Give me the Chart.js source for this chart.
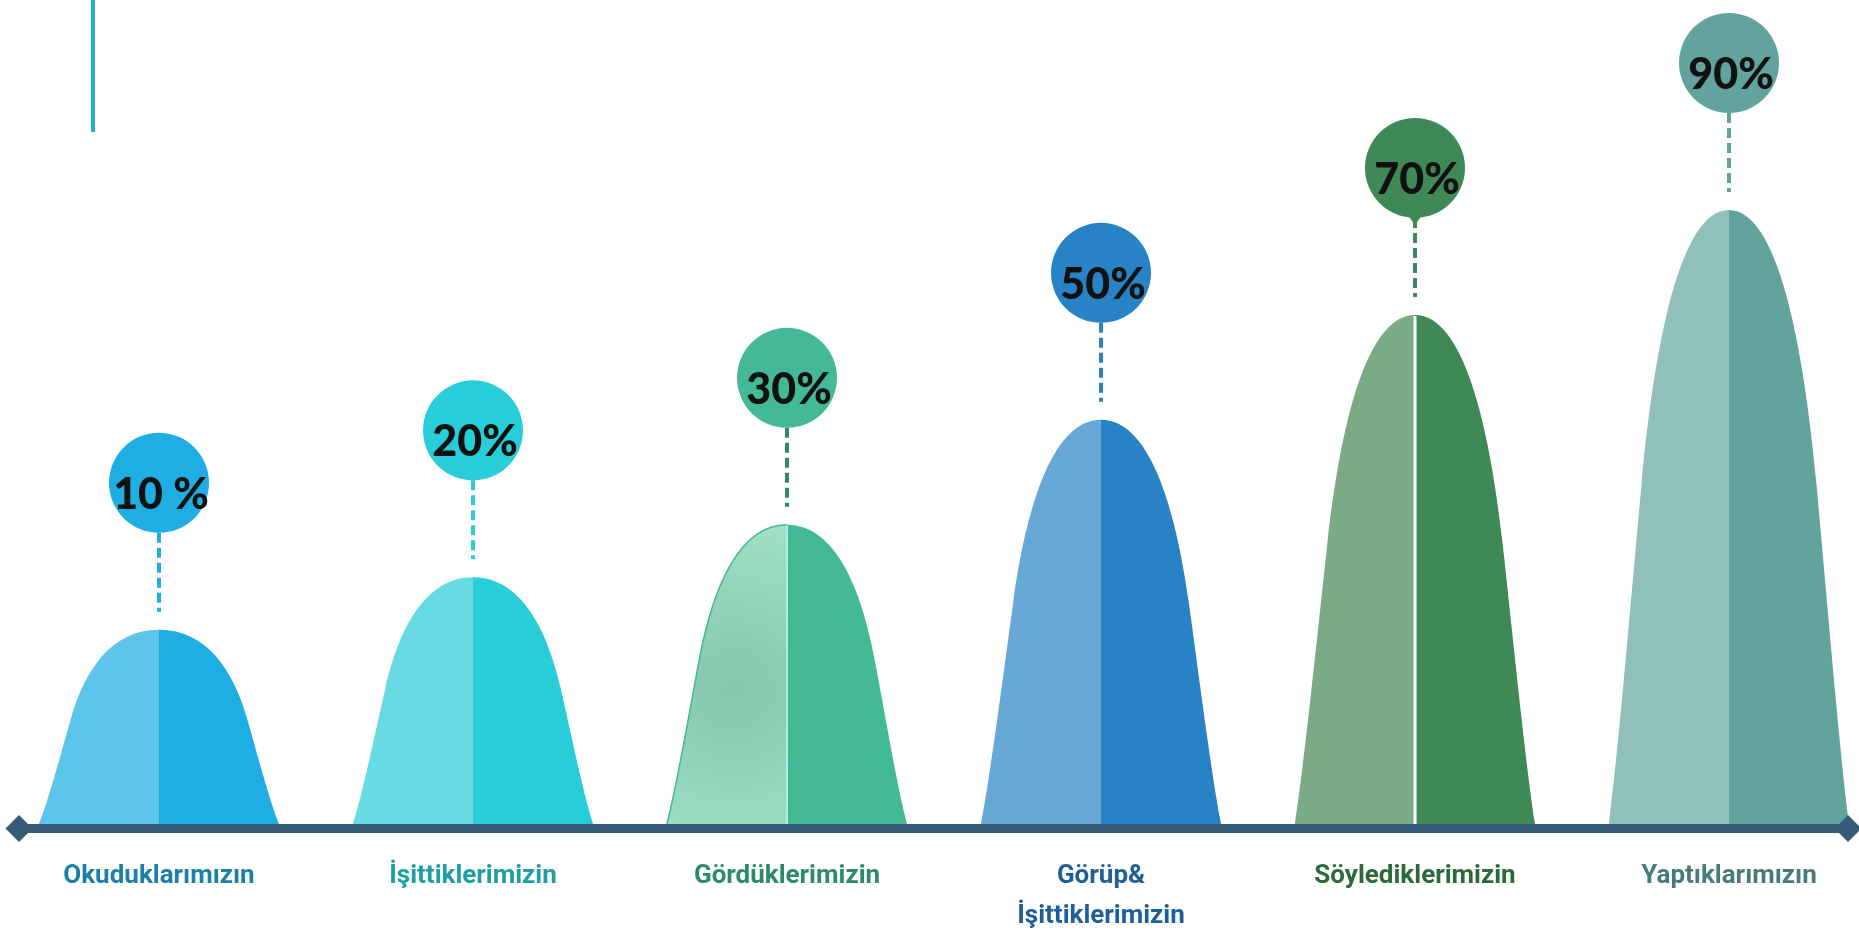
<!DOCTYPE html>
<html lang="tr">
<head>
<meta charset="utf-8">
<title>Öğrenme oranları</title>
<script src="https://cdn.jsdelivr.net/npm/chart.js@4/dist/chart.umd.min.js"></script>
<style>
  html, body { margin: 0; padding: 0; background: #ffffff; overflow: hidden; }
  #wrap { position: relative; width: 1859px; height: 936px; }
  canvas { display: block; }
</style>
</head>
<body>
<div id="wrap"><canvas id="chart" width="1859" height="936"></canvas></div>
<script>
// ---- data ----
const categories = [
  'Okuduklarımızın',
  'İşittiklerimizin',
  'Gördüklerimizin',
  ['Görüp&', 'İşittiklerimizin'],
  'Söylediklerimizin',
  'Yaptıklarımızın'
];
const values = [10, 20, 30, 50, 70, 90];
const valueSuffixes = [' %', '%', '%', '%', '%', '%'];
const yMin = -27;
const yMax = 130;

// ---- styles ----
const darkFills  = ['#1eaee3', '#29cdd8', '#43b996', '#2783c6', '#3e8955', '#62a39e'];
const lightFills = ['#5ec4ec', '#68dbe2', '#a3e3cb', '#68a8d6', '#7aab84', '#91bfba'];
const lightGlow  = [null, null, '#82c6ab', null, null, null];
const edgeLines  = [null, null, '#43b996', null, null, null];
const dividers   = [null, null, '#b9e9d8', null, '#ffffff', null];
const bubbleFills = ['#1eaee3', '#29cdd8', '#43b996', '#2783c6', '#3e8955', '#62a39e'];
const dashColors  = ['#1eaee3', '#29cdd8', '#2e8a6a', '#2783c6', '#3e8955', '#62a39e'];
const bubbleTips  = [false, false, false, false, true, false];
const labelColors = ['#1b80a8', '#1d9fa7', '#2c8a69', '#1f5f97', '#2c6a3d', '#477b7b'];
const axisColor = '#345c77';
const accentColor = '#1eaee3';

// outline of one half of a bell-shaped column; side = -1 (left) or +1 (right)
function bellCurve(ctx, x, top, base, hw, side) {
  const h = base - top;
  const P = (nx, ny) => [x + side * nx * hw, base - ny * h];
  ctx.bezierCurveTo(...P(0.92, 0.12), ...P(0.81, 0.38), ...P(0.73, 0.55));
  ctx.bezierCurveTo(...P(0.618, 0.788), ...P(0.4, 1), ...P(0, 1));
}

function bellHalf(ctx, x, top, base, hw, side, inner) {
  ctx.beginPath();
  ctx.moveTo(x + inner, base);
  ctx.lineTo(x + side * hw, base);
  bellCurve(ctx, x, top, base, hw, side);
  ctx.lineTo(x + inner, top);
  ctx.closePath();
}

const bellPlugin = {
  id: 'bells',
  afterDatasetsDraw(chart) {
    const ctx = chart.ctx;
    const meta = chart.getDatasetMeta(0);
    const area = chart.chartArea;
    ctx.save();

    // accent rule, top left
    ctx.fillStyle = accentColor;
    ctx.fillRect(91, 0, 4, 132);

    // bell columns
    meta.data.forEach((bar, i) => {
      const { x, y, base, width } = bar.getProps(['x', 'y', 'base', 'width'], true);
      const hw = width / 2;
      // right (darker) half
      bellHalf(ctx, x, y, base, hw, 1, -1);
      ctx.fillStyle = darkFills[i];
      ctx.fill();
      // left (lighter) half
      bellHalf(ctx, x, y, base, hw, -1, 0);
      if (lightGlow[i]) {
        const h = base - y;
        const g = ctx.createRadialGradient(x - hw * 0.45, base - h * 0.45, 0,
                                           x - hw * 0.45, base - h * 0.45, h * 0.62);
        g.addColorStop(0, lightGlow[i]);
        g.addColorStop(1, lightFills[i]);
        ctx.fillStyle = g;
      } else {
        ctx.fillStyle = lightFills[i];
      }
      ctx.fill();
      if (edgeLines[i]) {
        ctx.beginPath();
        ctx.moveTo(x - hw, base);
        bellCurve(ctx, x, y, base, hw, -1);
        ctx.strokeStyle = edgeLines[i];
        ctx.lineWidth = 1.5;
        ctx.stroke();
      }
      if (dividers[i]) {
        ctx.beginPath();
        ctx.moveTo(x, y + 1);
        ctx.lineTo(x, base);
        ctx.strokeStyle = dividers[i];
        ctx.lineWidth = i === 4 ? 3 : 2;
        ctx.stroke();
      }
    });

    // baseline with diamond ends
    const yAxis = area.bottom + 4.5;
    const xStart = 17, xEnd = chart.width - 11;
    ctx.fillStyle = axisColor;
    ctx.fillRect(xStart, area.bottom, xEnd - xStart, 9);
    [xStart + 2, xEnd].forEach(cx => {
      ctx.beginPath();
      ctx.moveTo(cx - 13.5, yAxis);
      ctx.lineTo(cx, yAxis - 13.5);
      ctx.lineTo(cx + 13.5, yAxis);
      ctx.lineTo(cx, yAxis + 13.5);
      ctx.closePath();
      ctx.fill();
    });

    // value bubbles with dashed leaders
    const r = 50;
    meta.data.forEach((bar, i) => {
      const { x, y } = bar.getProps(['x', 'y'], true);
      const cy = y - 147;
      ctx.save();
      ctx.beginPath();
      ctx.setLineDash([10, 5]);
      ctx.moveTo(x, cy + r);
      ctx.lineTo(x, y - 18);
      ctx.strokeStyle = dashColors[i];
      ctx.lineWidth = 4;
      ctx.stroke();
      ctx.restore();

      ctx.beginPath();
      ctx.arc(x, cy, r, 0, Math.PI * 2);
      ctx.fillStyle = bubbleFills[i];
      ctx.fill();
      if (bubbleTips[i]) {
        ctx.beginPath();
        ctx.moveTo(x - 8, cy + r - 4);
        ctx.lineTo(x + 8, cy + r - 4);
        ctx.lineTo(x, cy + r + 7);
        ctx.closePath();
        ctx.fill();
      }

      ctx.fillStyle = '#111111';
      ctx.font = '900 43px Lato, "Open Sans", sans-serif';
      ctx.textAlign = 'center';
      ctx.textBaseline = 'middle';
      ctx.fillText(values[i] + valueSuffixes[i], x + 2, cy + 12);
    });

    ctx.restore();
  }
};

new Chart(document.getElementById('chart').getContext('2d'), {
  type: 'bar',
  data: {
    labels: categories,
    datasets: [{
      data: values,
      base: yMin,
      backgroundColor: 'rgba(0,0,0,0)',
      borderWidth: 0,
      categoryPercentage: 1,
      barPercentage: 0.765
    }]
  },
  options: {
    responsive: false,
    animation: false,
    events: [],
    layout: { padding: { left: 159, right: 130, top: 0, bottom: 0 } },
    plugins: {
      legend: { display: false },
      tooltip: { enabled: false }
    },
    scales: {
      x: {
        offset: false,
        grid: { display: false, drawTicks: false },
        border: { display: false },
        ticks: {
          autoSkip: false,
          maxRotation: 0,
          padding: 32,
          color: (c) => labelColors[c.index],
          font: {
            family: 'Roboto, "Liberation Sans", sans-serif',
            weight: 'bold',
            size: 26,
            lineHeight: 1.54
          }
        },
        afterFit: (scale) => { scale.height = 112; }
      },
      y: { display: false, min: yMin, max: yMax }
    }
  },
  plugins: [bellPlugin]
});
</script>
</body>
</html>
